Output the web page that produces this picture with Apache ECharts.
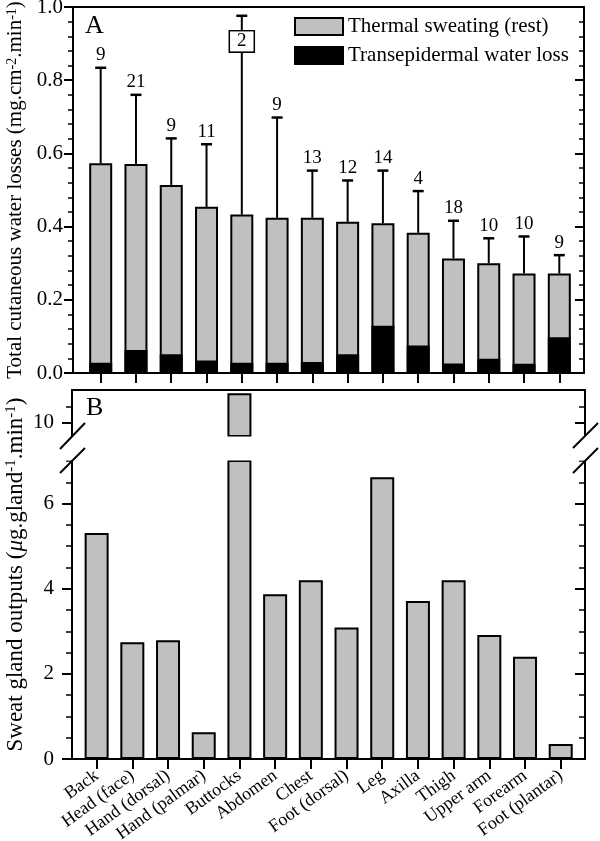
<!DOCTYPE html>
<html>
<head>
<meta charset="utf-8">
<script src="https://cdn.jsdelivr.net/npm/echarts@6/dist/echarts.min.js"></script>
<style>html,body{margin:0;padding:0;background:#fff;}#c{width:600px;height:841px;}</style>
</head>
<body>
<div id="c"></div>
<script>
const categories = ['Back','Head (face)','Hand (dorsal)','Hand (palmar)','Buttocks','Abdomen','Chest','Foot (dorsal)','Leg','Axilla','Thigh','Upper arm','Forearm','Foot (plantar)'];
const totalLoss = [0.573,0.571,0.514,0.454,0.433,0.424,0.424,0.413,0.409,0.383,0.313,0.300,0.272,0.272];
const tewl = [0.028,0.063,0.051,0.034,0.028,0.028,0.030,0.051,0.129,0.075,0.026,0.039,0.025,0.098];
const errTop = [0.834,0.760,0.641,0.625,0.976,0.698,0.553,0.526,0.553,0.497,0.416,0.368,0.373,0.322];
const nSubjects = [9,21,9,11,2,9,13,12,14,4,18,10,10,9];
const glandOutput = [5.31,2.74,2.79,0.63,10.9,3.87,4.20,3.09,6.62,3.71,4.20,2.91,2.40,0.35];
const boxedIndex = 4;
const catTicks = categories.map((c, i) => i);
const lowerMajor = [0, 2, 4, 6];
const upperMajor = [10];
const upperMinor = [10.5];
const legendNames = ['Thermal sweating (rest)', 'Transepidermal water loss'];

const FONT = '"Liberation Serif", "DejaVu Serif", serif';
const BLACK = '#000';
const GRAY = '#c0c0c0';

const chart = echarts.init(document.getElementById('c'), null, {renderer: 'canvas'});

function lineAxis(extra) {
  return Object.assign({
    axisLine: {show: true, onZero: false, lineStyle: {color: BLACK, width: 2}},
    splitLine: {show: false},
  }, extra);
}
function bareAxis(extra) {
  return Object.assign({
    axisLine: {show: false, onZero: false},
    splitLine: {show: false},
  }, extra);
}
const supA = {fontSize: 14, verticalAlign: 'top', fontFamily: FONT, color: BLACK};
const nrmA = {fontSize: 21, fontFamily: FONT, color: BLACK};
const supB = {fontSize: 15, verticalAlign: 'top', fontFamily: FONT, color: BLACK};
const nrmB = {fontSize: 23, fontFamily: FONT, color: BLACK};

const option = {
  backgroundColor: '#fff',
  animation: false,
  textStyle: {fontFamily: FONT, color: BLACK},
  grid: [
    {left: 73, right: 16, top: 7, height: 366, outerBoundsMode: 'none'},
    {left: 72, right: 15, top: 390, height: 46, outerBoundsMode: 'none'},
    {left: 72, right: 15, top: 461, height: 298, outerBoundsMode: 'none'},
    {left: 72, right: 15, top: 390, height: 369, outerBoundsMode: 'none'}
  ],
  legend: {
    data: legendNames,
    orient: 'vertical',
    left: 289, top: 11,
    itemWidth: 48, itemHeight: 17, itemGap: 8,
    icon: 'rect',
    textStyle: {fontFamily: FONT, fontSize: 21, color: BLACK},
    selectedMode: false
  },
  xAxis: [
    lineAxis({type: 'value', gridIndex: 0, position: 'bottom', min: -0.785, max: 13.70,
      axisTick: {show: true, customValues: catTicks, length: 10, lineStyle: {color: BLACK, width: 2}},
      axisLabel: {show: false}}),
    lineAxis({type: 'value', gridIndex: 0, position: 'top', min: -0.785, max: 13.70,
      axisTick: {show: false}, axisLabel: {show: false}}),
    lineAxis({type: 'value', gridIndex: 1, position: 'top', min: -0.69, max: 13.68,
      axisTick: {show: false}, axisLabel: {show: false}}),
    lineAxis({type: 'value', gridIndex: 2, position: 'bottom', min: -0.69, max: 13.68,
      axisTick: {show: true, customValues: catTicks, length: 10, lineStyle: {color: BLACK, width: 2}},
      axisLabel: {show: true, customValues: catTicks, formatter: v => categories[Math.round(v)],
        rotate: 36, margin: 15, fontSize: 18, fontFamily: FONT, color: BLACK, hideOverlap: false}}),
    bareAxis({type: 'value', gridIndex: 3, show: false, min: 0, max: 1})
  ],
  yAxis: [
    lineAxis({type: 'value', gridIndex: 0, position: 'left', min: 0, max: 1, interval: 0.2,
      axisTick: {show: true, length: 9, lineStyle: {color: BLACK, width: 2}},
      minorTick: {show: true, splitNumber: 5, length: 5, lineStyle: {color: BLACK, width: 1.5}},
      axisLabel: {formatter: v => v.toFixed(1), fontSize: 21, margin: 10, color: BLACK, fontFamily: FONT},
      name: '{n|Total cutaneous water losses (mg.cm}{sup|-2}{n|.min}{sup|-1}{n|)}',
      nameLocation: 'middle', nameGap: 46,
      nameTextStyle: {fontFamily: FONT, fontSize: 21, color: BLACK, rich: {sup: supA, n: nrmA}}}),
    lineAxis({type: 'value', gridIndex: 0, position: 'right', min: 0, max: 1, interval: 0.2,
      axisTick: {show: true, inside: true, length: 9, lineStyle: {color: BLACK, width: 2}},
      minorTick: {show: true, splitNumber: 5, length: 5, lineStyle: {color: BLACK, width: 1.5}},
      axisLabel: {show: false}}),
    lineAxis({type: 'value', gridIndex: 1, position: 'left', min: 9.6, max: 11,
      axisTick: {show: true, customValues: upperMinor, length: 6, lineStyle: {color: BLACK, width: 1.5}},
      axisLabel: {customValues: upperMajor, fontSize: 21, margin: 18, color: BLACK, fontFamily: FONT}}),
    bareAxis({type: 'value', gridIndex: 1, position: 'left', min: 9.6, max: 11,
      axisTick: {show: true, customValues: upperMajor, length: 10, lineStyle: {color: BLACK, width: 2}},
      axisLabel: {show: false}}),
    lineAxis({type: 'value', gridIndex: 1, position: 'right', min: 9.6, max: 11,
      axisTick: {show: true, inside: true, customValues: upperMinor, length: 6, lineStyle: {color: BLACK, width: 1.5}},
      axisLabel: {show: false}}),
    bareAxis({type: 'value', gridIndex: 1, position: 'right', min: 9.6, max: 11,
      axisTick: {show: true, inside: true, customValues: upperMajor, length: 10, lineStyle: {color: BLACK, width: 2}},
      axisLabel: {show: false}}),
    lineAxis({type: 'value', gridIndex: 2, position: 'left', min: 0, max: 7, interval: 0.5,
      axisTick: {show: true, length: 6, lineStyle: {color: BLACK, width: 1.5}},
      axisLabel: {customValues: lowerMajor, fontSize: 21, margin: 18, color: BLACK, fontFamily: FONT}}),
    bareAxis({type: 'value', gridIndex: 2, position: 'left', min: 0, max: 7,
      axisTick: {show: true, customValues: lowerMajor, length: 10, lineStyle: {color: BLACK, width: 2}},
      axisLabel: {show: false}}),
    lineAxis({type: 'value', gridIndex: 2, position: 'right', min: 0, max: 7, interval: 0.5,
      axisTick: {show: true, inside: true, length: 6, lineStyle: {color: BLACK, width: 1.5}},
      axisLabel: {show: false}}),
    bareAxis({type: 'value', gridIndex: 2, position: 'right', min: 0, max: 7,
      axisTick: {show: true, inside: true, customValues: lowerMajor, length: 10, lineStyle: {color: BLACK, width: 2}},
      axisLabel: {show: false}}),
    bareAxis({type: 'value', gridIndex: 3, position: 'left', min: 0, max: 1,
      axisTick: {show: false}, axisLabel: {show: false},
      name: '{n|Sweat gland outputs (}{it|μ}{n|g.gland}{sup|-1}{n|.min}{sup|-1}{n|)}',
      nameLocation: 'middle', nameGap: 45,
      nameTextStyle: {fontFamily: FONT, fontSize: 23, color: BLACK,
        rich: {sup: supB, n: nrmB, it: Object.assign({}, nrmB, {fontStyle: 'italic'})}}})
  ],
  series: [
    {
      name: legendNames[0], type: 'bar', xAxisIndex: 0, yAxisIndex: 0, barWidth: 23, barGap: '-100%', z: 2,
      data: totalLoss.map((v, i) => [i, v]),
      itemStyle: {color: GRAY, borderColor: BLACK, borderWidth: 2}
    },
    {
      name: legendNames[1], type: 'bar', xAxisIndex: 0, yAxisIndex: 0, barWidth: 23, barGap: '-100%', z: 3,
      data: tewl.map((v, i) => [i, v]),
      itemStyle: {color: BLACK, borderColor: BLACK, borderWidth: 2}
    },
    {
      type: 'custom', xAxisIndex: 0, yAxisIndex: 0, z: 6, clip: false,
      data: errTop.map((e, i) => [i, totalLoss[i], e, nSubjects[i]]),
      renderItem: function (params, api) {
        const idx = params.dataIndex;
        const base = api.coord([api.value(0), api.value(1)]);
        const top = api.coord([api.value(0), api.value(2)]);
        const n = api.value(3);
        const cx = top[0];
        const children = [
          {type: 'rect', shape: {x: cx - 1, y: top[1], width: 2, height: base[1] - top[1]}, style: {fill: BLACK}},
          {type: 'rect', shape: {x: cx - 5.5, y: top[1] - 1.25, width: 11, height: 2.5}, style: {fill: BLACK}}
        ];
        if (idx === boxedIndex) {
          const p = api.coord([api.value(0), api.value(2) - 0.07]);
          children.push({type: 'text', style: {text: String(n), x: p[0], y: p[1], align: 'center', verticalAlign: 'middle',
            font: '19px "Liberation Serif"', fill: BLACK, backgroundColor: '#fff', borderColor: BLACK, borderWidth: 1.5,
            padding: [1, 7, 0, 7]}});
        } else {
          children.push({type: 'text', style: {text: String(n), x: cx, y: top[1] - 3, align: 'center', verticalAlign: 'bottom',
            font: '19px "Liberation Serif"', fill: BLACK}});
        }
        return {type: 'group', children: children};
      }
    },
    {
      type: 'bar', xAxisIndex: 2, yAxisIndex: 2, barWidth: 24,
      data: glandOutput.map((v, i) => [i, v]),
      itemStyle: {color: GRAY, borderColor: BLACK, borderWidth: 2}
    },
    {
      type: 'bar', xAxisIndex: 3, yAxisIndex: 6, barWidth: 24,
      data: glandOutput.map((v, i) => [i, v]),
      itemStyle: {color: GRAY, borderColor: BLACK, borderWidth: 2}
    }
  ],
  graphic: [
    {type: 'text', left: 85, top: 13, z: 10, style: {text: 'A', font: '26px "Liberation Serif"', fill: BLACK}},
    {type: 'text', left: 86, top: 395, z: 10, style: {text: 'B', font: '26px "Liberation Serif"', fill: BLACK}},
    {type: 'rect', z: 50, shape: {x: 40, y: 436.5, width: 560, height: 24}, style: {fill: '#fff'}},
    {type: 'line', z: 60, shape: {x1: 60, y1: 449, x2: 85, y2: 423}, style: {stroke: BLACK, lineWidth: 2}},
    {type: 'line', z: 60, shape: {x1: 60, y1: 473, x2: 85, y2: 448}, style: {stroke: BLACK, lineWidth: 2}},
    {type: 'line', z: 60, shape: {x1: 573, y1: 448, x2: 598, y2: 423}, style: {stroke: BLACK, lineWidth: 2}},
    {type: 'line', z: 60, shape: {x1: 573, y1: 473, x2: 598, y2: 448}, style: {stroke: BLACK, lineWidth: 2}}
  ]
};
chart.setOption(option);
</script>
</body>
</html>
